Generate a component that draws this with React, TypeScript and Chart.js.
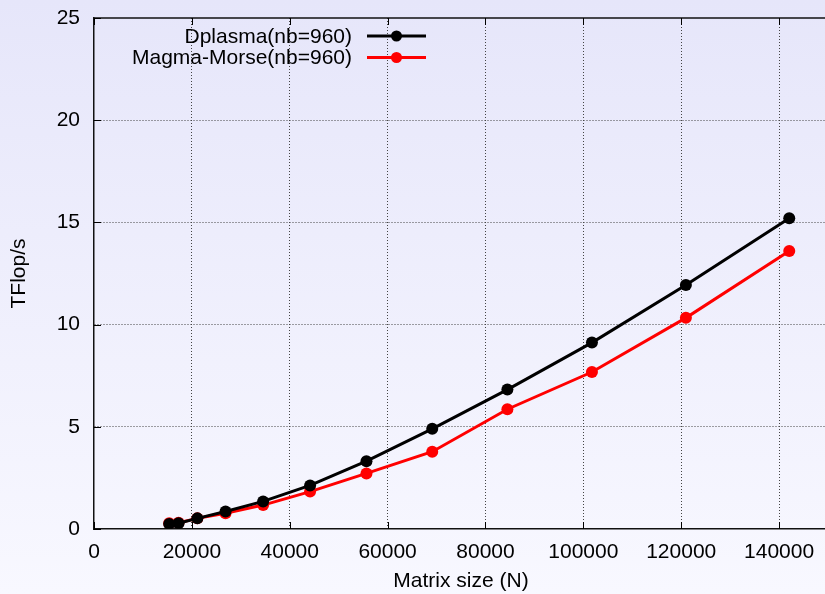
import React, { useEffect, useRef } from "react";
import { Chart, registerables } from "chart.js";

Chart.register(...registerables);

const matrixSizes = [15360, 17280, 21120, 26880, 34560, 44160, 55680, 69120, 84480, 101760, 120960, 142080];
const dplasmaTflops = [0.24, 0.28, 0.52, 0.86, 1.35, 2.13, 3.32, 4.9, 6.82, 9.12, 11.94, 15.2];
const magmaTflops = [0.28, 0.31, 0.52, 0.77, 1.17, 1.83, 2.72, 3.78, 5.86, 7.68, 10.33, 13.6];
const seriesLabels = ["Dplasma(nb=960)", "Magma-Morse(nb=960)"];
const seriesColors = ["#000000", "#ff0000"];
const xTickValues = [0, 20000, 40000, 60000, 80000, 100000, 120000, 140000];
const yTickValues = [0, 5, 10, 15, 20, 25];

const FONT = "'Liberation Sans', Arial, Helvetica, sans-serif";

const bgPlugin = {
  id: "bgGradient",
  beforeDraw(chart: any) {
    const { ctx, width, height } = chart;
    const g = ctx.createLinearGradient(0, 0, 0, height);
    g.addColorStop(0, "#e6e6fa");
    g.addColorStop(1, "#f8f8ff");
    ctx.save();
    ctx.fillStyle = g;
    ctx.fillRect(0, 0, width, height);
    ctx.restore();
  },
};

const frameAndLegendPlugin = {
  id: "frameLegend",
  afterDatasetsDraw(chart: any) {
    const { ctx, chartArea } = chart;
    const xs = chart.scales.x;
    const ys = chart.scales.y;
    ctx.save();
    ctx.strokeStyle = "#111";
    ctx.lineWidth = 1.5;
    ctx.beginPath();
    ctx.moveTo(chartArea.left, chartArea.top);
    ctx.lineTo(chartArea.right, chartArea.top);
    ctx.stroke();
    ctx.lineWidth = 1;
    ctx.strokeStyle = "#000";
    const tl = 7;
    xs.ticks.forEach((t: any) => {
      const px = Math.round(xs.getPixelForValue(t.value)) + 0.5;
      ctx.beginPath();
      ctx.moveTo(px, chartArea.bottom);
      ctx.lineTo(px, chartArea.bottom - tl);
      ctx.moveTo(px, chartArea.top);
      ctx.lineTo(px, chartArea.top + tl);
      ctx.stroke();
    });
    ys.ticks.forEach((t: any) => {
      const py = Math.round(ys.getPixelForValue(t.value)) + 0.5;
      ctx.beginPath();
      ctx.moveTo(chartArea.left, py);
      ctx.lineTo(chartArea.left + tl, py);
      ctx.stroke();
    });
    const textRight = 352;
    const lineStart = 367;
    const lineEnd = 426;
    const rows = [36, 57.5];
    ctx.font = `21px ${FONT}`;
    ctx.textAlign = "right";
    ctx.textBaseline = "middle";
    chart.data.datasets.forEach((ds: any, i: number) => {
      const y = rows[i];
      ctx.fillStyle = "#000";
      ctx.fillText(ds.label, textRight, y + 1);
      ctx.strokeStyle = ds.borderColor;
      ctx.lineWidth = 3;
      ctx.beginPath();
      ctx.moveTo(lineStart, y);
      ctx.lineTo(lineEnd, y);
      ctx.stroke();
      ctx.fillStyle = ds.backgroundColor;
      ctx.beginPath();
      ctx.arc((lineStart + lineEnd) / 2, y, 5.5, 0, Math.PI * 2);
      ctx.fill();
    });
    ctx.restore();
  },
};

export default function App() {
  const ref = useRef<HTMLCanvasElement | null>(null);

  useEffect(() => {
    if (!ref.current) return;
    const series = [dplasmaTflops, magmaTflops];
    const chart = new Chart(ref.current, {
      type: "scatter",
      data: {
        datasets: series.map((vals, i) => ({
          label: seriesLabels[i],
          data: matrixSizes.map((n, j) => ({ x: n, y: vals[j] })),
          showLine: true,
          borderColor: seriesColors[i],
          backgroundColor: seriesColors[i],
          borderWidth: 3,
          pointRadius: 6,
          pointBorderWidth: 0,
          pointHoverRadius: 6,
        })),
      },
      options: {
        animation: false,
        responsive: false,
        maintainAspectRatio: false,
        layout: { padding: { top: 18, right: 12, left: 0, bottom: 0 } },
        plugins: { legend: { display: false }, tooltip: { enabled: false }, title: { display: false } },
        scales: {
          x: {
            type: "linear",
            min: 0,
            max: 150000,
            afterBuildTicks: (s: any) => {
              s.ticks = xTickValues.map((v) => ({ value: v }));
            },
            afterFit: (s: any) => {
              s.height = 65;
              s.paddingLeft = 0;
              s.paddingRight = 0;
            },
            ticks: {
              color: "#000",
              font: { family: FONT, size: 21 },
              padding: 11,
              maxRotation: 0,
              minRotation: 0,
              autoSkip: false,
              callback: (v: any) => String(v),
            },
            grid: {
              color: (c: any) => (c.tick && c.tick.value === 0 ? "rgba(0,0,0,0)" : "#444"),
              lineWidth: 1,
              drawTicks: false,
              tickLength: 0,
            },
            border: { display: true, color: "#111", width: 1.5, dash: [1, 2] },
            title: {
              display: true,
              text: "Matrix size (N)",
              color: "#000",
              font: { family: FONT, size: 21 },
              padding: { top: 0, bottom: 0 },
            },
          },
          y: {
            type: "linear",
            min: 0,
            max: 25,
            afterBuildTicks: (s: any) => {
              s.ticks = yTickValues.map((v) => ({ value: v }));
            },
            afterFit: (s: any) => {
              s.width = 94;
              s.paddingTop = 0;
              s.paddingBottom = 0;
            },
            ticks: {
              color: "#000",
              font: { family: FONT, size: 21 },
              padding: 14,
            },
            grid: {
              color: (c: any) => (c.tick && (c.tick.value === 0 || c.tick.value === 25) ? "rgba(0,0,0,0)" : "#444"),
              lineWidth: 1,
              drawTicks: false,
              tickLength: 0,
            },
            border: { display: true, color: "#111", width: 1.5, dash: [1, 2] },
            title: {
              display: true,
              text: "TFlop/s",
              color: "#000",
              font: { family: FONT, size: 21 },
              padding: { top: 7, bottom: 0 },
            },
          },
        },
      },
      plugins: [bgPlugin, frameAndLegendPlugin],
    } as any);
    return () => chart.destroy();
  }, []);

  return (
    <div style={{ position: "fixed", left: 0, top: 0, width: 840, height: 594, overflow: "hidden" }}>
      <canvas ref={ref} width={840} height={594} style={{ display: "block" }} />
    </div>
  );
}
